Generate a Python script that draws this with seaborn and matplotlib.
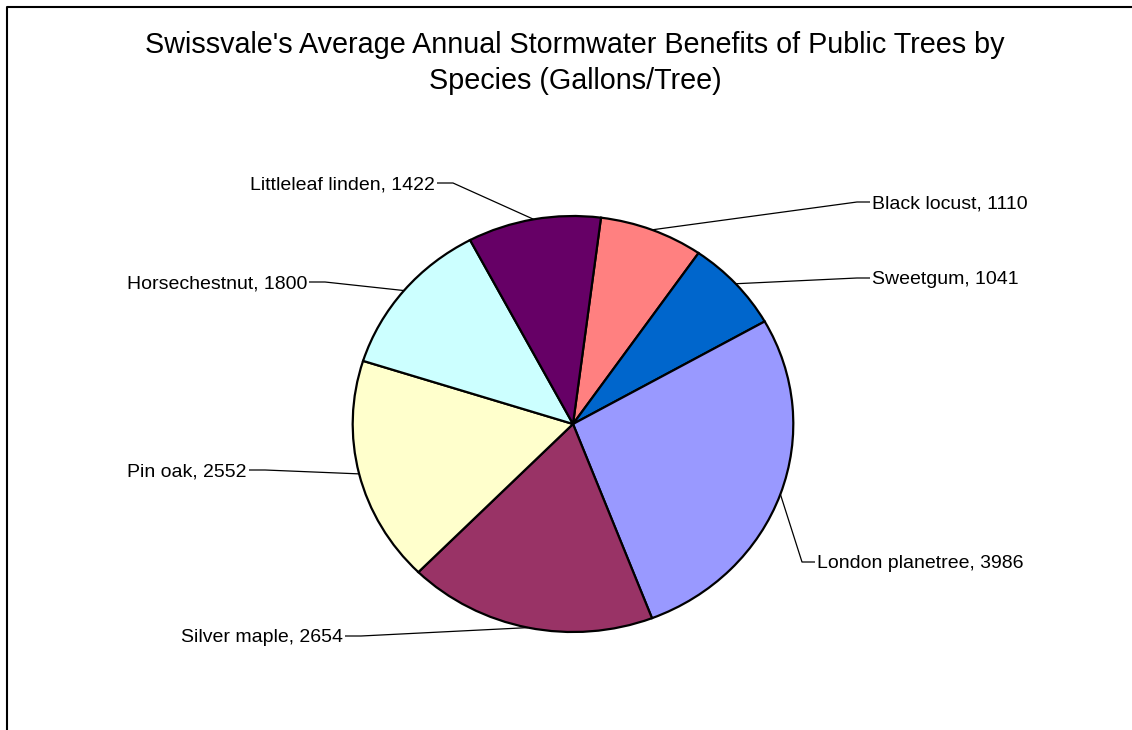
import numpy as np
import matplotlib
matplotlib.use("Agg")
import matplotlib.pyplot as plt
from matplotlib.lines import Line2D
import seaborn as sns

# Average annual stormwater benefit per tree (gallons), listed clockwise from the top
species = ["Black locust", "Sweetgum", "London planetree", "Silver maple",
           "Pin oak", "Horsechestnut", "Littleleaf linden"]
gallons = [1110, 1041, 3986, 2654, 2552, 1800, 1422]
slice_colors = ["#FF8080", "#0066CC", "#9999FF", "#993366",
                "#FFFFCC", "#CCFFFF", "#660066"]

title = "Swissvale's Average Annual Stormwater Benefits of Public Trees by\nSpecies (Gallons/Tree)"

# Label anchors in figure pixels (from top-left) and which side of the pie they sit on
label_layout = {
    "Black locust": (872, 202, "left"),
    "Sweetgum": (872, 278, "left"),
    "London planetree": (817, 562, "left"),
    "Silver maple": (343, 636, "right"),
    "Pin oak": (247, 470, "right"),
    "Horsechestnut": (307, 282, "right"),
    "Littleleaf linden": (435, 183, "right"),
}

sns.set_theme(style="white")
plt.rcParams["font.family"] = ["Liberation Sans", "DejaVu Sans"]

W, H = 1132, 730
CX, CY = 573, 424      # pie centre, pixels from top-left
RX, RY = 220.3, 208    # pie radii in pixels

fig = plt.figure(figsize=(W / 100, H / 100), dpi=100)
fig.patch.set_facecolor("white")
ax = fig.add_axes([0, 0, 1, 1])

palette = sns.color_palette(slice_colors)
wedges, _ = ax.pie(gallons, colors=palette, startangle=90 - 7.3, counterclock=False,
                   wedgeprops=dict(edgecolor="black", linewidth=1.6, antialiased=True))

ax.set_aspect("auto")
ax.set_xlim(-CX / RX, (W - CX) / RX)
ax.set_ylim(-(H - CY) / RY, CY / RY)
ax.axis("off")


def to_data(px, py):
    return (px - CX) / RX, (CY - py) / RY


for w, name, val in zip(wedges, species, gallons):
    mid = np.deg2rad((w.theta1 + w.theta2) / 2)
    ax_pt = (np.cos(mid), np.sin(mid))
    tx, ty, side = label_layout[name]
    if side == "left":
        knee = to_data(tx - 15, ty)
        end = to_data(tx - 2, ty)
        ha = "left"
    else:
        knee = to_data(tx + 18, ty)
        end = to_data(tx + 2, ty)
        ha = "right"
    ax.plot([ax_pt[0], knee[0], end[0]], [ax_pt[1], knee[1], end[1]],
            color="black", lw=0.9, solid_capstyle="butt", zorder=3)
    lx, ly = to_data(tx, ty)
    ax.text(lx, ly, f"{name}, {val}", ha=ha, va="center_baseline",
            fontsize=14, color="black")

fig.text(575 / W, 1 - 63 / H, title, ha="center", va="center",
         fontsize=20.7, linespacing=1.32, color="black")

# Chart-area frame (left and top edges)
fig.add_artist(Line2D([7 / W, 7 / W, 1.02], [-0.02, 1 - 7 / H, 1 - 7 / H],
                      transform=fig.transFigure, color="black", lw=1.5))

fig.savefig("out.png", dpi=100, facecolor="white")
